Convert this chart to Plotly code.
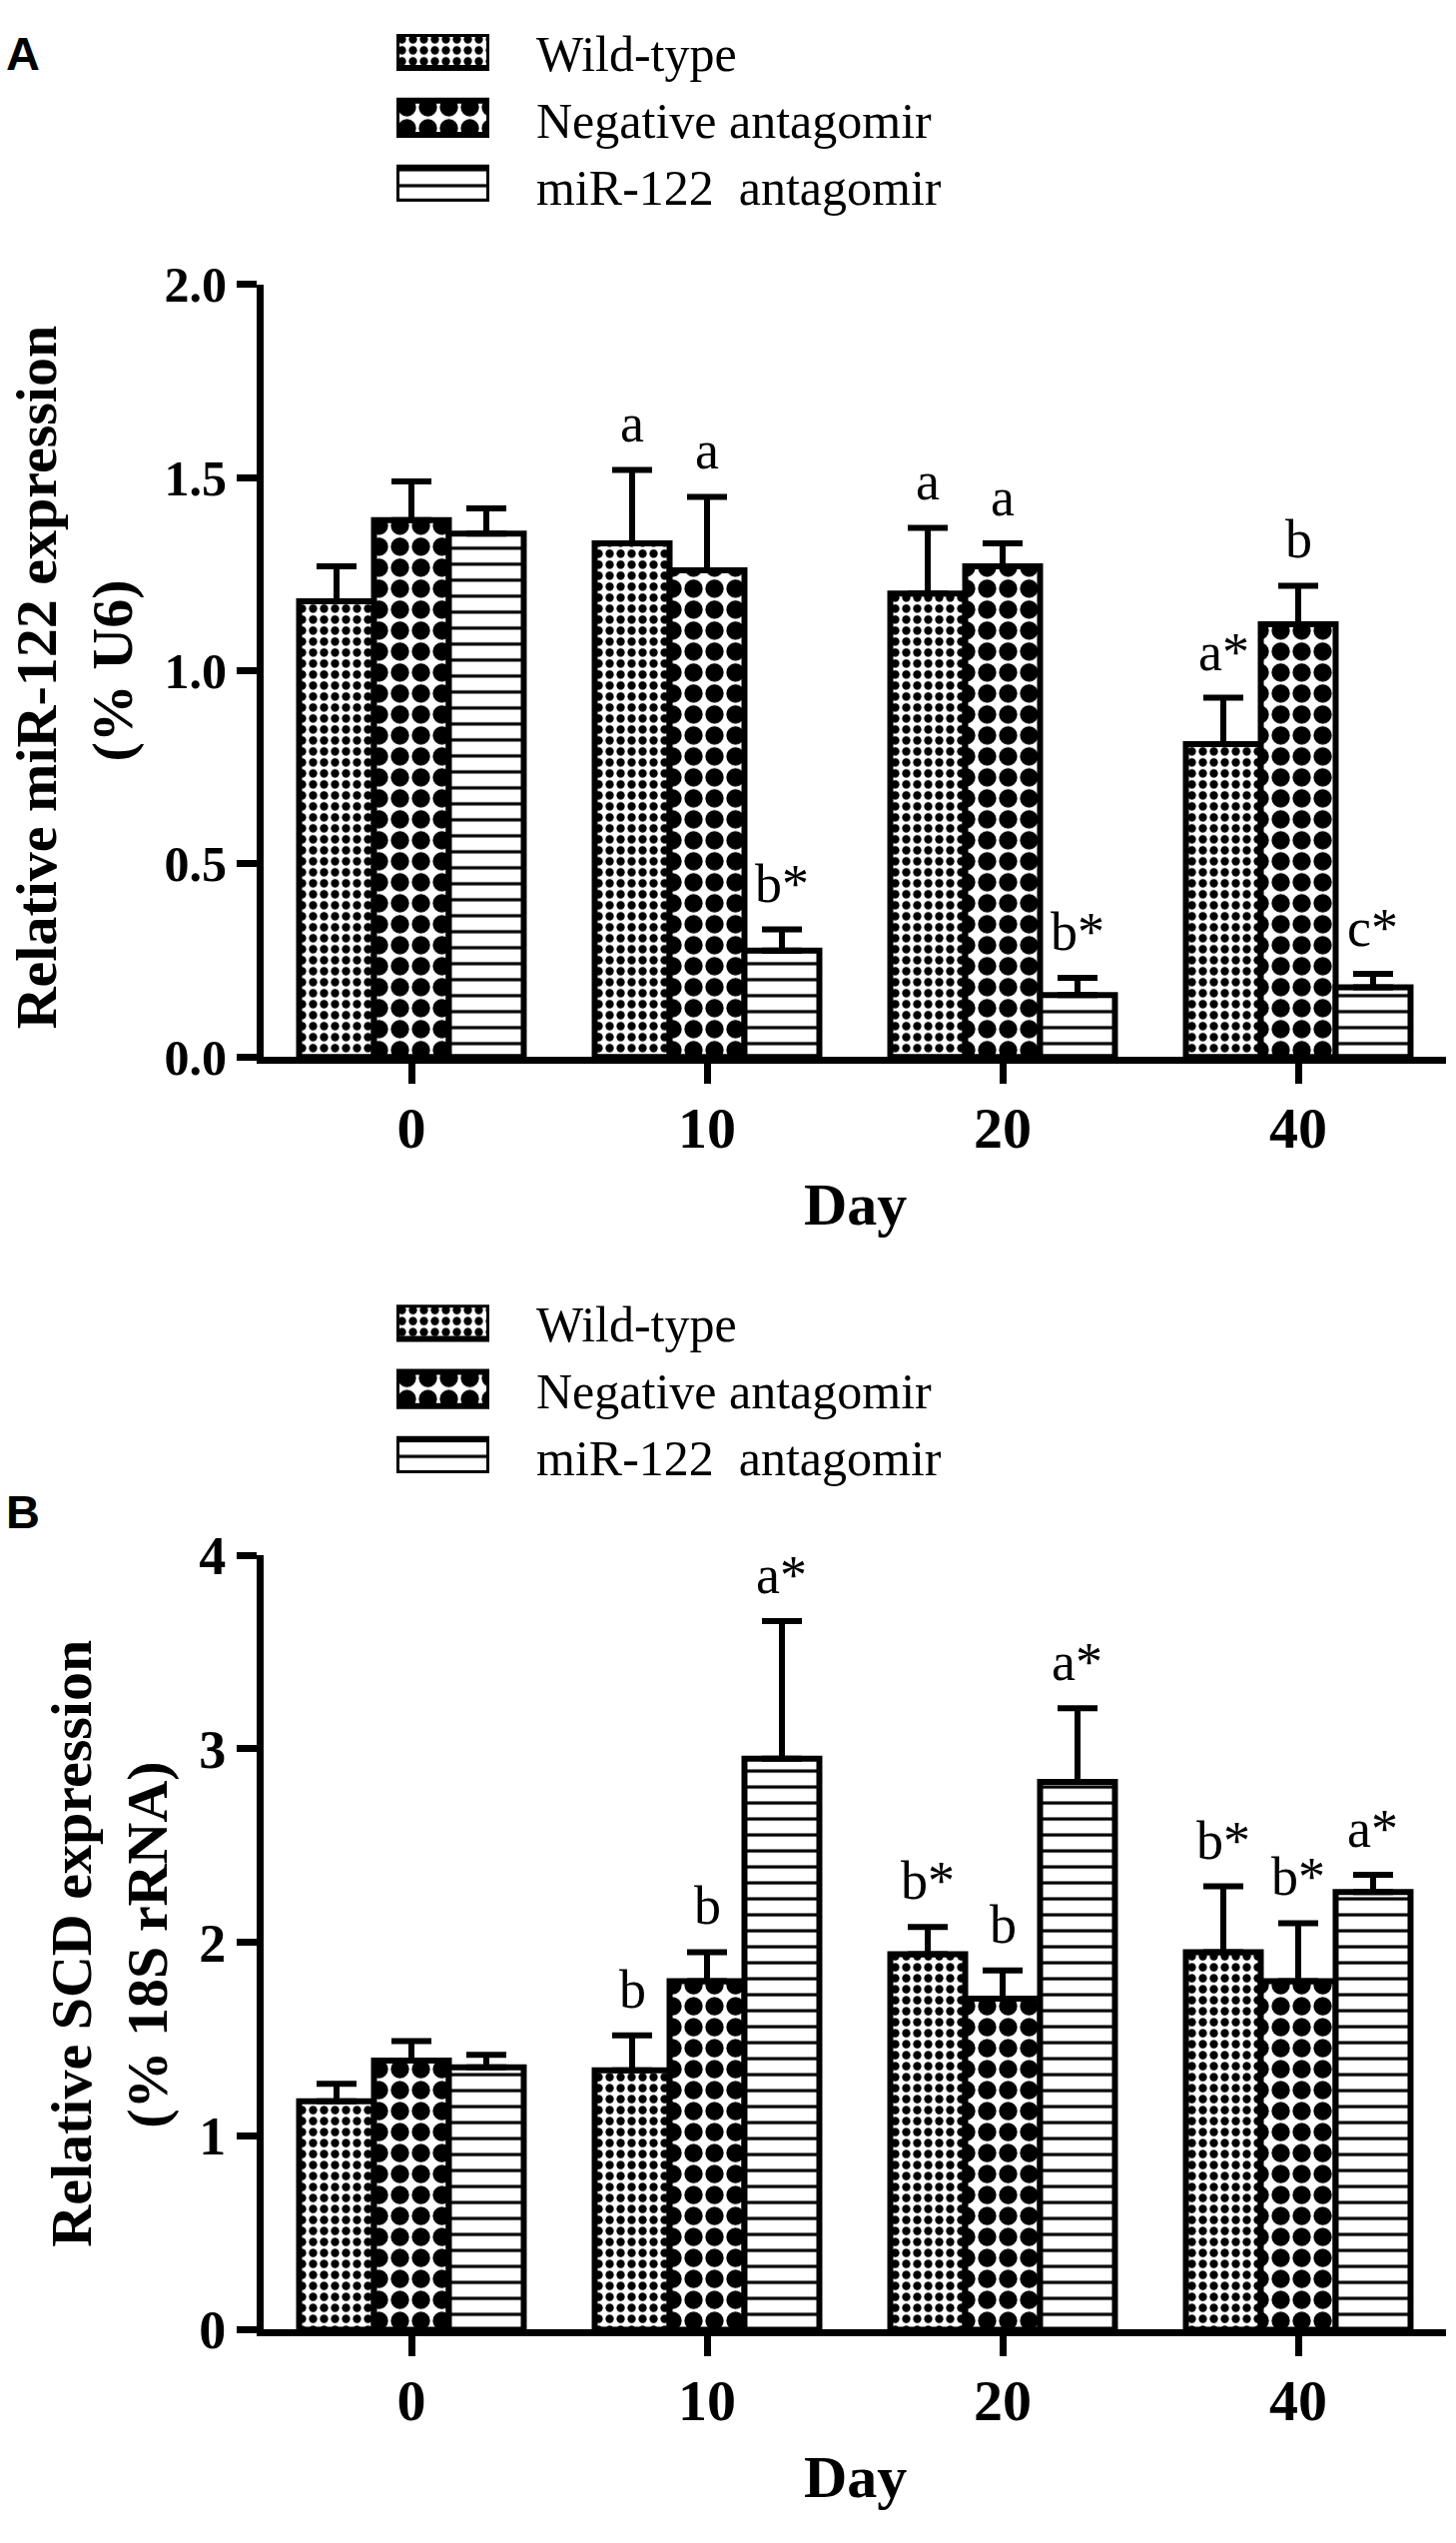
import plotly.graph_objects as go

# dane
days = ["0", "10", "20", "40"]
groups = ["Wild-type", "Negative antagomir", "miR-122  antagomir"]

# panel A: miR-122 (% U6)
wt_a = [1.18, 1.33, 1.20, 0.81]
wt_a_err = [0.09, 0.19, 0.17, 0.12]
neg_a = [1.39, 1.26, 1.27, 1.12]
neg_a_err = [0.10, 0.19, 0.06, 0.10]
mir_a = [1.355, 0.275, 0.16, 0.18]
mir_a_err = [0.065, 0.055, 0.045, 0.035]
wt_a_lab = ["", "a", "a", "a*"]
neg_a_lab = ["", "a", "a", "b"]
mir_a_lab = ["", "b*", "b*", "c*"]

# panel B: SCD (% 18S rRNA)
wt_b = [1.18, 1.34, 1.94, 1.95]
wt_b_err = [0.09, 0.18, 0.14, 0.34]
neg_b = [1.39, 1.80, 1.71, 1.80]
neg_b_err = [0.10, 0.15, 0.145, 0.30]
mir_b = [1.355, 2.95, 2.83, 2.26]
mir_b_err = [0.065, 0.71, 0.38, 0.09]
wt_b_lab = ["", "b", "b*", "b*"]
neg_b_lab = ["", "b", "b", "b*"]
mir_b_lab = ["", "a*", "a*", "a*"]

W, H = 1458, 2546
SERIF = "Liberation Serif"
SANS = "Liberation Sans"


def px(p):
    return p / W


def py(p):
    return 1 - p / H


patterns = [
    dict(shape=".", size=11, solidity=0.45),
    dict(shape=".", size=21, solidity=0.6),
    dict(shape="-", size=16, solidity=0.2),
]
bargap = 0.24
bw = (1 - bargap) / 3
offsets = [-bw, 0, bw]

fig = go.Figure()
annotations = []


def add_panel(xa, ya, vals, errs, labs, yref):
    xs = list(range(len(days)))
    for k in range(3):
        pat = patterns[k]
        fig.add_trace(go.Bar(
            x=xs, y=vals[k], name=groups[k], xaxis=xa, yaxis=ya,
            marker=dict(color="black",
                        line=dict(color="black", width=6),
                        pattern=dict(shape=pat["shape"], size=pat["size"],
                                     solidity=pat["solidity"], fgcolor="black",
                                     bgcolor="white", fillmode="replace")),
            error_y=dict(type="data", symmetric=False, array=errs[k],
                         arrayminus=[0] * len(days), color="black",
                         thickness=6, width=20),
            showlegend=False,
        ))
        for i, t in enumerate(labs[k]):
            if t:
                annotations.append(dict(
                    x=i + offsets[k], y=vals[k][i] + errs[k][i],
                    xref=xa, yref=yref, text=t, showarrow=False,
                    yanchor="bottom", yshift=14,
                    font=dict(family=SERIF, size=54, color="black")))


add_panel("x", "y", [wt_a, neg_a, mir_a], [wt_a_err, neg_a_err, mir_a_err],
          [wt_a_lab, neg_a_lab, mir_a_lab], "y")
add_panel("x2", "y2", [wt_b, neg_b, mir_b], [wt_b_err, neg_b_err, mir_b_err],
          [wt_b_lab, neg_b_lab, mir_b_lab], "y2")


# legenda jako male poziome slupki
def add_legend(xa, ya):
    fig.add_trace(go.Bar(
        x=[1, 1, 1], y=[0, 1, 2], orientation="h", width=0.511,
        xaxis=xa, yaxis=ya, showlegend=False, hoverinfo="skip",
        marker=dict(color="black", line=dict(color="black", width=6),
                    pattern=dict(shape=[p["shape"] for p in patterns],
                                 size=[p["size"] for p in patterns],
                                 solidity=[p["solidity"] for p in patterns],
                                 fgcolor="black", bgcolor="white",
                                 fillmode="replace")),
    ))


add_legend("x3", "y3")
add_legend("x4", "y4")

axis_style = dict(showline=True, linewidth=7, linecolor="black", ticks="outside",
                  ticklen=20, tickwidth=7, tickcolor="black", showgrid=False,
                  zeroline=False)
xdom = [px(264), px(1448)]
xtick = dict(tickmode="array", tickvals=list(range(len(days))), ticktext=days,
             range=[-0.5, 3.5], ticklabelstandoff=-6,
             tickfont=dict(family=SERIF, size=58, color="black", weight="bold"))

leg_axis = dict(visible=False, fixedrange=True)

fig.update_layout(
    width=W, height=H, margin=dict(l=0, r=0, t=0, b=0),
    paper_bgcolor="white", plot_bgcolor="white",
    barmode="group", bargap=bargap, bargroupgap=0,
    xaxis=dict(domain=xdom, anchor="y", **xtick, **axis_style),
    yaxis=dict(domain=[py(1054), py(262)], anchor="x", range=[0, 2.0],
               tick0=0, dtick=0.5, tickformat=".1f",
               tickfont=dict(family=SERIF, size=50, color="black", weight="bold"),
               **axis_style),
    xaxis2=dict(domain=xdom, anchor="y2", **xtick, **axis_style),
    yaxis2=dict(domain=[py(2359), py(1565)], anchor="x2", range=[0, 4],
                tick0=0, dtick=1,
                tickfont=dict(family=SERIF, size=54, color="black", weight="bold"),
                **axis_style),
    xaxis3=dict(domain=[px(397), px(490)], anchor="y3", range=[0, 1], **leg_axis),
    yaxis3=dict(domain=[py(177), py(5)], anchor="x3", range=[2.2555, -0.2555], **leg_axis),
    xaxis4=dict(domain=[px(397), px(490)], anchor="y4", range=[0, 1], **leg_axis),
    yaxis4=dict(domain=[py(1481), py(1308)], anchor="x4", range=[2.2555, -0.2555], **leg_axis),
)

# teksty legendy
for top in (5, 1308):
    for k, g in enumerate(groups):
        annotations.append(dict(
            x=px(535), y=py(top + 17.5 + k * 68.5), xref="paper", yref="paper",
            text=g, showarrow=False, xanchor="left", yanchor="middle", yshift=-3,
            font=dict(family=SERIF, size=50, color="black")))

# litery paneli
annotations.append(dict(x=px(4), y=py(25), xref="paper", yref="paper", text="<b>A</b>",
                        showarrow=False, xanchor="left", yanchor="middle",
                        font=dict(family=SANS, size=47, color="black")))
annotations.append(dict(x=px(4), y=py(1520), xref="paper", yref="paper", text="<b>B</b>",
                        showarrow=False, xanchor="left", yanchor="middle",
                        font=dict(family=SANS, size=47, color="black")))

# tytuly osi
ytitles = [
    ("Relative miR-122 expression", 36, 665),
    ("(% U6)", 112, 658),
    ("Relative SCD expression", 72, 1963),
    ("(% 18S rRNA)", 148, 1965),
]
for t, xc, yc in ytitles:
    annotations.append(dict(x=px(xc), y=py(yc), xref="paper", yref="paper", text=t,
                            showarrow=False, textangle=-90, xanchor="center",
                            yanchor="middle",
                            font=dict(family=SERIF, size=58, color="black", weight="bold")))
for yc in (1205, 2510):
    annotations.append(dict(x=px(856), y=py(yc), xref="paper", yref="paper", text="Day",
                            showarrow=False, xanchor="center", yanchor="middle",
                            font=dict(family=SERIF, size=60, color="black", weight="bold")))

fig.update_layout(annotations=annotations)

fig.write_html("out.html", config={"displayModeBar": False},
               post_script="document.body.style.margin='0';")
